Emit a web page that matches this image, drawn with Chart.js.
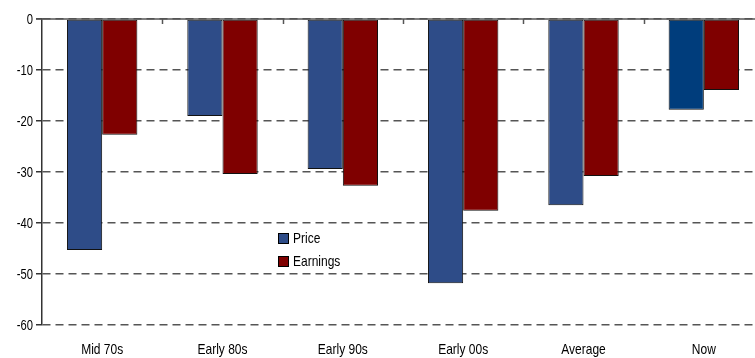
<!DOCTYPE html>
<html>
<head>
<meta charset="utf-8">
<script src="https://cdn.jsdelivr.net/npm/chart.js@4"></script>
<style>
  html, body { margin: 0; padding: 0; background: #fff; overflow: hidden; }
  /* plot runs a little past the right edge in the original */
  #wrap { width: 764px; height: 358px; }
</style>
</head>
<body>
<div id="wrap"><canvas id="chart"></canvas></div>
<script>
const categories = ["Mid 70s", "Early 80s", "Early 90s", "Early 00s", "Average", "Now"];
const priceValues = [-45.3, -19.0, -29.4, -51.8, -36.5, -17.8];
const earningsValues = [-22.7, -30.4, -32.7, -37.6, -30.8, -13.9];
const yTicks = [0, -10, -20, -30, -40, -50, -60];

const FONT = "'Liberation Sans', Arial, sans-serif";
const NARROW = 0.8; // no condensed font installed, so squeeze the text horizontally

// price bar for "Now" is a brighter blue in the original
const priceColors = categories.map(c => c === "Now" ? "#003d7c" : "#2e4c88");

// draw text squeezed horizontally around its anchor point
function narrowText(c, txt, x, y, align) {
  c.save();
  c.translate(x, y);
  c.scale(NARROW, 1);
  c.textAlign = align;
  c.textBaseline = 'middle';
  c.fillText(txt, 0, 0);
  c.restore();
}

// axis labels + legend, drawn by hand so they can be condensed
const narrowLabels = {
  id: 'narrowLabels',
  afterDraw(chart) {
    const xs = chart.scales.x, ys = chart.scales.y;
    const c = chart.ctx;
    c.save();
    c.fillStyle = '#000';
    c.font = '15px ' + FONT;
    categories.forEach((lab, i) => narrowText(c, lab, xs.getPixelForValue(i), 350, 'center'));
    c.font = '14px ' + FONT;
    yTicks.forEach(v => narrowText(c, String(v), 33, ys.getPixelForValue(v) + 1, 'right'));

    // legend sits inside the plot
    const x = 278, y0 = 233;
    chart.data.datasets.forEach((ds, i) => {
      const y = y0 + i * 23;
      c.fillStyle = ds.legendColor;
      c.fillRect(x, y, 11, 11);
      c.strokeStyle = '#000';
      c.lineWidth = 1;
      c.strokeRect(x + 0.5, y + 0.5, 10, 10);
      c.fillStyle = '#000';
      c.font = '15px ' + FONT;
      narrowText(c, ds.label, x + 15, y + 6, 'left');
    });
    c.restore();
  }
};

// solid zero line plus small tick marks on it between categories
const zeroTicks = {
  id: 'zeroTicks',
  afterDraw(chart) {
    const xs = chart.scales.x, ys = chart.scales.y;
    const c = chart.ctx;
    const y = Math.round(ys.getPixelForValue(0));
    c.save();
    c.strokeStyle = '#555';
    c.lineWidth = 1.5;
    c.beginPath();
    c.moveTo(chart.chartArea.left - 6, y);
    c.lineTo(chart.chartArea.right, y);
    c.stroke();
    for (let i = 1; i < categories.length; i++) {
      const x = Math.round((xs.getPixelForValue(i - 1) + xs.getPixelForValue(i)) / 2) + 0.5;
      c.beginPath();
      c.moveTo(x, y);
      c.lineTo(x, y + 5);
      c.stroke();
    }
    c.restore();
  }
};

new Chart(document.getElementById('chart'), {
  type: 'bar',
  data: {
    labels: categories,
    datasets: [
      {
        label: "Price",
        data: priceValues,
        backgroundColor: priceColors,
        legendColor: "#2e4c88",
        borderColor: "#111",
        borderWidth: 1
      },
      {
        label: "Earnings",
        data: earningsValues,
        backgroundColor: "#7f0000",
        legendColor: "#7f0000",
        borderColor: "#111",
        borderWidth: 1
      }
    ]
  },
  options: {
    responsive: true,
    maintainAspectRatio: false,
    animation: false,
    layout: { padding: { top: 19, right: 0, left: 36, bottom: 33 } },
    datasets: {
      bar: { categoryPercentage: 0.585, barPercentage: 1.0, borderSkipped: false }
    },
    plugins: {
      legend: { display: false },
      tooltip: { enabled: false }
    },
    scales: {
      x: {
        grid: { display: false, drawTicks: false },
        border: { display: false },
        ticks: { display: false }
      },
      y: {
        min: -60,
        max: 0,
        afterBuildTicks(axis) { axis.ticks = yTicks.map(v => ({ value: v })); },
        grid: {
          color: '#555',
          lineWidth: 1.5,
          tickLength: 6,
          tickColor: '#333',
          tickBorderDash: [0, 0]
        },
        border: { display: true, color: '#333', width: 1.5, dash: [8, 5] },
        ticks: { display: false }
      }
    }
  },
  plugins: [narrowLabels, zeroTicks]
});
</script>
</body>
</html>
